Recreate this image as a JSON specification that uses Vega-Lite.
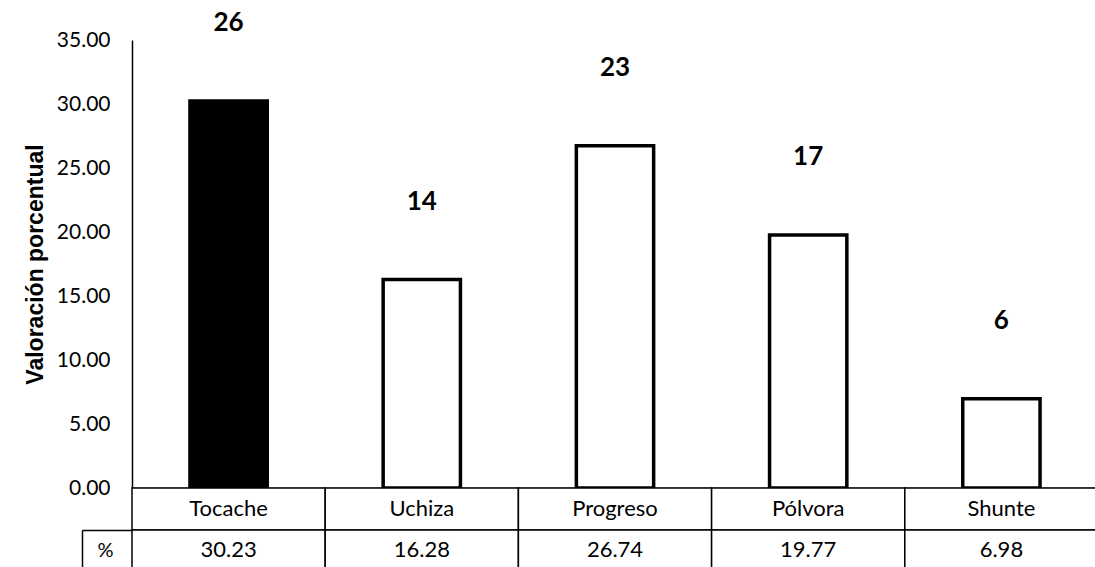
{
  "$schema": "https://vega.github.io/schema/vega-lite/v6.json",
  "autosize": {"type": "pad"},
  "padding": {"left": 24, "top": 10, "right": 0, "bottom": 0},
  "background": "white",
  "data": {"values": [
    {"municipio": "Tocache", "pct": 30.23, "n": 26},
    {"municipio": "Uchiza", "pct": 16.28, "n": 14},
    {"municipio": "Progreso", "pct": 26.74, "n": 23},
    {"municipio": "Pólvora", "pct": 19.77, "n": 17},
    {"municipio": "Shunte", "pct": 6.98, "n": 6}
  ]},
  "spacing": 0,
  "bounds": "flush",
  "vconcat": [
    {
      "width": 966,
      "height": 448,
      "layer": [
        {
          "mark": {"type": "bar", "stroke": "black", "strokeWidth": 3.5},
          "encoding": {
            "x": {"field": "municipio", "type": "nominal", "sort": null,
                  "scale": {"paddingInner": 0.6, "paddingOuter": 0.3},
                  "axis": {"title": null, "labels": false, "ticks": false, "domain": true, "domainColor": "black", "domainWidth": 1.5}},
            "y": {"field": "pct", "type": "quantitative",
                  "scale": {"domain": [0, 35], "nice": false},
                  "axis": {"values": [0, 5, 10, 15, 20, 25, 30, 35], "format": ".2f", "grid": false, "ticks": false,
                           "domain": true, "domainColor": "black", "domainWidth": 1.5,
                           "labelFont": "Lato", "labelFontSize": 21, "labelColor": "black", "labelPadding": 22,
                           "title": "Valoración porcentual", "titleFont": "Liberation Sans", "titleFontSize": 23,
                           "titleFontWeight": "bold", "titleColor": "black", "titlePadding": 9}},
            "fill": {"condition": {"test": "datum.municipio === 'Tocache'", "value": "black"}, "value": "white"}
          }
        },
        {
          "mark": {"type": "text", "dy": -78, "font": "Lato", "fontSize": 26, "fontWeight": "bold", "color": "black", "baseline": "middle"},
          "encoding": {
            "x": {"field": "municipio", "type": "nominal", "sort": null},
            "y": {"field": "pct", "type": "quantitative"},
            "text": {"field": "n", "type": "quantitative"}
          }
        }
      ]
    },
    {
      "width": 966,
      "height": 42,
      "layer": [
        {
          "mark": {"type": "rect", "fill": "white", "stroke": "black", "strokeWidth": 1.5},
          "encoding": {
            "x": {"field": "municipio", "type": "nominal", "sort": null, "axis": null,
                  "scale": {"paddingInner": 0, "paddingOuter": 0}},
            "y": {"datum": "name", "type": "nominal", "axis": null,
                  "scale": {"paddingInner": 0, "paddingOuter": 0}}
          }
        },
        {
          "mark": {"type": "text", "font": "Lato", "fontSize": 22, "color": "black", "baseline": "middle"},
          "encoding": {
            "x": {"field": "municipio", "type": "nominal", "sort": null, "axis": null},
            "y": {"datum": "name", "type": "nominal", "axis": null},
            "text": {"field": "municipio", "type": "nominal"}
          }
        }
      ]
    },
    {
      "width": 966,
      "height": 40,
      "layer": [
        {
          "mark": {"type": "rect", "fill": "white", "stroke": "black", "strokeWidth": 1.5},
          "encoding": {
            "x": {"field": "municipio", "type": "nominal", "sort": null, "axis": null,
                  "scale": {"paddingInner": 0, "paddingOuter": 0}},
            "y": {"datum": "%", "type": "nominal",
                  "scale": {"paddingInner": 0, "paddingOuter": 0},
                  "axis": {"orient": "left", "offset": 50, "title": null, "grid": false,
                           "domain": true, "domainColor": "black", "domainWidth": 1.5,
                           "ticks": true, "tickSize": -50, "tickBand": "extent", "tickColor": "black", "tickWidth": 1.5,
                           "labelPadding": 27, "labelAlign": "center", "labelBaseline": "middle",
                           "labelFont": "Lato", "labelFontSize": 20, "labelColor": "black"}}
          }
        },
        {
          "mark": {"type": "text", "font": "Lato", "fontSize": 22, "color": "black", "baseline": "middle"},
          "encoding": {
            "x": {"field": "municipio", "type": "nominal", "sort": null, "axis": null},
            "y": {"datum": "%", "type": "nominal"},
            "text": {"field": "pct", "type": "quantitative", "format": ".2f"}
          }
        }
      ]
    }
  ],
  "config": {
    "view": {"stroke": null},
    "axis": {"labelColor": "black"}
  }
}
